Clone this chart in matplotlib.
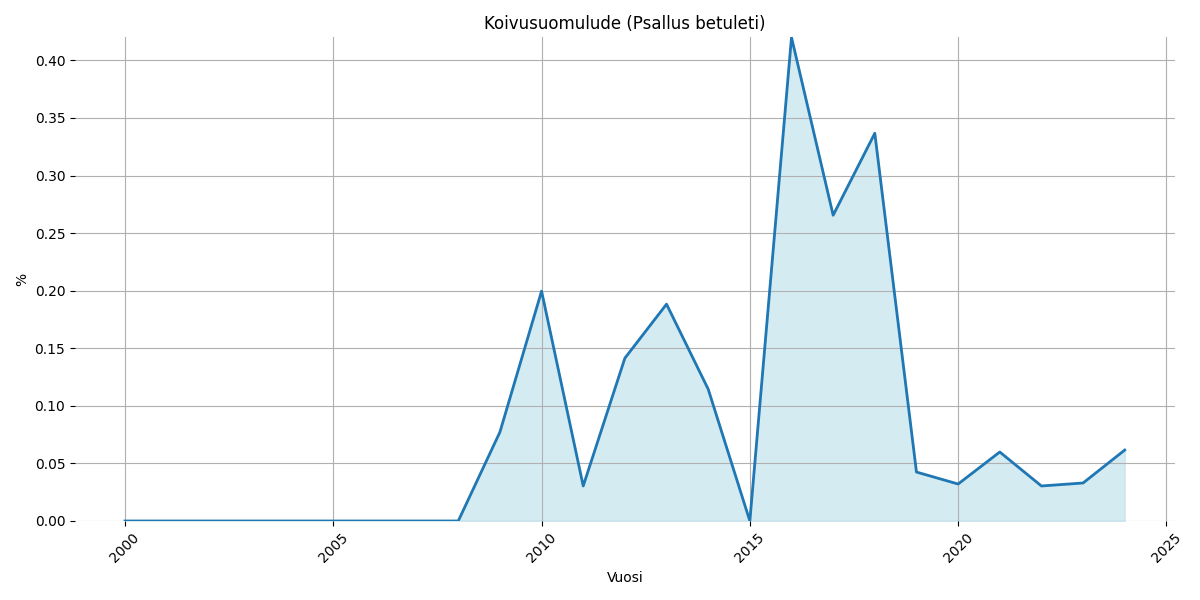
import matplotlib
matplotlib.use('Agg')
import matplotlib.pyplot as plt

years = list(range(2000, 2025))
values = [0, 0, 0, 0, 0, 0, 0, 0, 0,
          0.0772, 0.1996, 0.0304, 0.1414, 0.1883, 0.1145, 0.0,
          0.4200, 0.2655, 0.3367, 0.0425, 0.0321, 0.0599, 0.0304, 0.0330, 0.0616]

fig, ax = plt.subplots(figsize=(12, 6), dpi=100)
ax.fill_between(years, values, color='lightblue', alpha=0.5)
ax.plot(years, values, color='tab:blue', linewidth=2)
ax.set_ylim(0, max(values))
ax.set_title("Koivusuomulude (Psallus betuleti)")
ax.set_xlabel("Vuosi")
ax.set_ylabel("%")
ax.grid(True)
for s in ax.spines.values():
    s.set_visible(False)
plt.xticks(rotation=45)
fig.tight_layout()
fig.savefig("out.png")
